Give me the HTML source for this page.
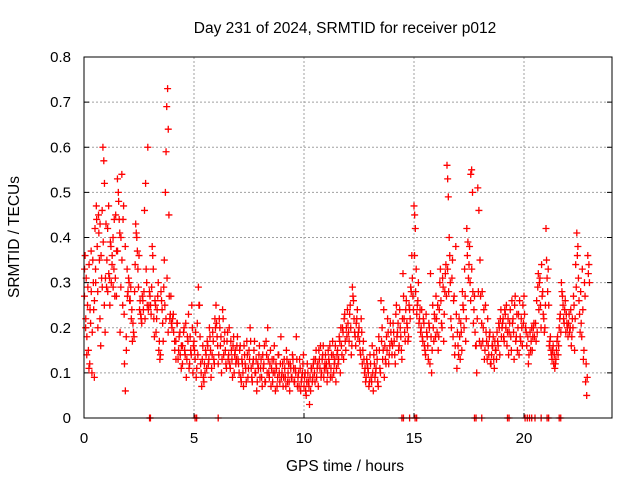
<!DOCTYPE html>
<html><head><meta charset="utf-8"><style>
body{margin:0;background:#fff;}
svg{display:block;font-family:"Liberation Sans",sans-serif;}
</style></head><body>
<svg id="chart" width="640" height="480">
<rect x="0" y="0" width="640" height="480" fill="#fff"/>
<text x="345" y="33" font-size="15.5" text-anchor="middle" fill="#000">Day 231 of 2024, SRMTID for receiver p012</text>
<text x="345" y="471" font-size="15.5" text-anchor="middle" fill="#000">GPS time / hours</text>
<text x="19" y="237" font-size="15.5" text-anchor="middle" fill="#000" transform="rotate(-90 19 237)">SRMTID / TECUs</text>
<g id="grid"></g>
<g id="ticks"></g>
<g id="points"></g>
<rect x="84" y="57" width="528" height="361" fill="none" stroke="#000" stroke-width="1"/>
</svg>
<script>
const xTicks=[0,5,10,15,20];
const yTicks=[0,0.1,0.2,0.3,0.4,0.5,0.6,0.7,0.8];
const yTickLabels=["0","0.1","0.2","0.3","0.4","0.5","0.6","0.7","0.8"];
const hours=[0.02,0.05,0.08,0.1,0.13,0.16,0.2,0.23,0.26,0.3,0.33,0.36,0.4,0.44,0.47,
0.5,0.53,0.56,0.6,0.63,0.66,0.7,0.73,0.76,0.8,0.83,0.86,0.9,0.93,0.96,
1.0,1.04,1.08,1.12,1.16,1.2,1.24,1.28,1.32,1.36,1.4,1.44,1.48,
1.52,1.56,1.6,1.64,1.68,1.72,1.76,1.8,1.84,1.88,1.92,1.96,
2.0,2.05,2.1,2.15,2.2,2.25,2.3,2.35,2.4,2.45,
2.5,2.55,2.6,2.65,2.7,2.75,2.8,2.85,2.9,2.95,
3.0,3.05,3.1,3.15,3.2,3.25,3.3,3.35,3.4,3.45,
3.5,3.55,3.6,3.65,3.7,3.73,3.76,3.8,3.83,3.86,3.9,3.95,
4.0,4.06,4.12,4.18,4.24,4.3,4.36,4.42,4.48,
4.55,4.6,4.65,4.7,4.75,4.8,4.85,4.9,4.95,
5.0,5.05,5.1,5.15,5.2,5.25,5.3,5.35,5.4,5.45,
5.5,5.55,5.6,5.65,5.7,5.75,5.8,5.85,5.9,5.95,
6.0,6.05,6.1,6.15,6.2,6.25,6.3,6.35,6.4,6.45,
6.5,6.55,6.6,6.65,6.7,6.75,6.8,6.85,6.9,6.95,
7.0,7.05,7.1,7.15,7.2,7.25,7.3,7.35,7.4,7.45,
7.5,7.55,7.6,7.65,7.7,7.75,7.8,7.85,7.9,7.95,
8.0,8.05,8.1,8.15,8.2,8.25,8.3,8.35,8.4,8.45,
8.5,8.55,8.6,8.65,8.7,8.75,8.8,8.85,8.9,8.95,
9.0,9.05,9.1,9.15,9.2,9.25,9.3,9.35,9.4,9.45,
9.5,9.55,9.6,9.65,9.7,9.75,9.8,9.85,9.9,9.95,
10.0,10.05,10.1,10.15,10.2,10.25,10.3,10.35,10.4,10.45,
10.5,10.55,10.6,10.65,10.7,10.75,10.8,10.85,10.9,10.95,
11.0,11.05,11.1,11.15,11.2,11.25,11.3,11.35,11.4,11.45,
11.5,11.55,11.6,11.65,11.7,11.75,11.8,11.85,11.9,11.95,
12.0,12.05,12.1,12.15,12.2,12.25,12.3,12.35,12.4,12.45,
12.5,12.55,12.6,12.65,12.7,12.75,12.8,12.85,12.9,12.95,
13.0,13.05,13.1,13.15,13.2,13.25,13.3,13.35,13.4,13.45,
13.5,13.55,13.6,13.65,13.7,13.75,13.8,13.85,13.9,13.95,
14.0,14.05,14.1,14.15,14.2,14.25,14.3,14.35,14.4,14.45,
14.5,14.55,14.6,14.65,14.7,14.75,14.8,14.85,14.9,14.95,
15.0,15.03,15.06,15.1,15.15,15.2,15.25,15.3,15.35,15.4,15.45,
15.5,15.55,15.6,15.65,15.7,15.75,15.8,15.85,15.9,15.95,
16.0,16.05,16.1,16.15,16.2,16.25,16.3,16.35,16.4,16.45,
16.5,16.53,16.56,16.6,16.65,16.7,16.75,16.8,16.85,16.9,16.95,
17.0,17.05,17.1,17.15,17.2,17.25,17.3,17.35,17.4,17.45,
17.5,17.55,17.58,17.62,17.66,17.7,17.75,17.8,17.85,17.9,17.95,
18.0,18.05,18.1,18.15,18.2,18.25,18.3,18.35,18.4,18.45,
18.5,18.55,18.6,18.65,18.7,18.75,18.8,18.85,18.9,18.95,
19.0,19.05,19.1,19.15,19.2,19.25,19.3,19.35,19.4,19.45,
19.5,19.55,19.6,19.65,19.7,19.75,19.8,19.85,19.9,19.95,
20.0,20.1,20.2,20.3,20.35,20.4,20.45,
20.55,20.6,20.65,20.7,20.75,20.8,20.85,20.9,20.95,
21.0,21.05,21.1,21.15,21.2,21.25,21.3,21.35,21.4,21.45,
21.5,21.55,21.6,21.65,21.7,21.75,21.8,21.85,21.9,21.95,
22.0,22.05,22.1,22.15,22.2,22.25,22.3,22.35,22.4,22.45,
22.5,22.55,22.6,22.65,22.7,22.75,22.8,22.85,22.9,22.95];
const srmtid=[.27,.36,.22,.31,.18,.25,.15,.34,.12,.21,.28,.10,.35,.24,.09,
.42,.30,.47,.38,.20,.45,.35,.43,.16,.31,.29,.60,.57,.52,.19,
.43,.35,.28,.47,.31,.39,.30,.36,.40,.33,.27,.45,.37,
.53,.50,.44,.19,.40,.54,.25,.47,.12,.06,.18,.33,
.28,.30,.26,.22,.17,.19,.28,.43,.40,.33,
.36,.26,.22,.27,.24,.46,.52,.30,.60,.25,
.27,.23,.38,.33,.18,.25,.22,.27,.15,.13,
.28,.24,.17,.35,.50,.59,.69,.73,.64,.45,.22,.27,
.20,.23,.17,.13,.21,.15,.19,.11,.16,
.20,.14,.09,.18,.23,.12,.15,.25,.10,
.17,.13,.09,.21,.29,.25,.12,.07,.16,.08,
.10,.14,.17,.12,.20,.15,.11,.19,.13,.22,
.25,.18,.12,.22,.16,.10,.24,.14,.19,.12,
.17,.13,.20,.11,.15,.09,.18,.14,.12,.16,
.13,.10,.16,.08,.12,.07,.14,.11,.17,.09,
.15,.20,.11,.08,.13,.17,.10,.06,.12,.14,
.09,.13,.07,.11,.16,.08,.14,.20,.10,.12,
.07,.13,.10,.16,.06,.11,.09,.14,.08,.18,
.10,.07,.13,.09,.15,.08,.12,.06,.11,.09,
.13,.08,.11,.18,.07,.10,.13,.06,.09,.12,
.07,.10,.05,.12,.08,.03,.06,.11,.09,.13,
.08,.15,.11,.07,.13,.16,.10,.14,.09,.12,
.11,.08,.15,.12,.09,.14,.17,.10,.13,.08,
.14,.12,.18,.10,.16,.20,.13,.23,.15,.18,
.21,.17,.25,.14,.29,.26,.19,.16,.22,.18,
.20,.15,.22,.12,.17,.10,.08,.13,.11,.07,
.14,.09,.16,.06,.12,.10,.15,.08,.18,.11,
.26,.20,.15,.09,.13,.18,.22,.12,.16,.19,
.14,.21,.17,.12,.25,.19,.15,.24,.18,.13,
.32,.22,.17,.26,.20,.18,.24,.29,.36,.27,
.47,.45,.42,.33,.25,.30,.22,.19,.24,.17,.21,
.15,.23,.18,.13,.20,.32,.10,.25,.17,.22,
.27,.19,.15,.24,.33,.21,.31,.17,.28,.34,
.56,.53,.49,.40,.30,.20,.35,.26,.14,.38,.11,
.16,.22,.13,.19,.28,.24,.33,.17,.42,.39,
.34,.30,.54,.55,.50,.21,.27,.16,.10,.51,.46,
.35,.16,.28,.20,.13,.25,.17,.22,.14,.19,
.12,.16,.18,.11,.15,.13,.17,.21,.14,.24,
.20,.22,.17,.23,.25,.19,.14,.21,.18,.26,
.22,.13,.27,.18,.15,.23,.26,.17,.20,.25,
.27,.19,.12,.15,.20,.18,.21,
.17,.19,.32,.30,.25,.34,.28,.22,.20,
.42,.31,.33,.16,.18,.14,.15,.12,.11,.13,
.17,.14,.20,.23,.30,.27,.22,.24,.19,.21,
.18,.23,.20,.16,.22,.27,.15,.34,.41,.38,
.26,.19,.21,.33,.13,.30,.08,.05,.36,.34];
const hours2=[0.025,0.075,0.125,0.175,0.225,0.275,0.325,0.375,0.425,0.475,0.525,0.575,0.625,0.675,0.725,0.775,0.825,0.875,0.925,0.975,
1.025,1.075,1.125,1.175,1.225,1.275,1.325,1.375,1.425,1.475,1.525,1.575,1.625,1.675,1.725,1.775,1.825,1.875,1.925,1.975,
2.025,2.075,2.125,2.175,2.225,2.275,2.325,2.375,2.425,2.475,2.525,2.575,2.625,2.675,2.725,2.775,2.825,2.875,2.925,2.975,
3.025,3.075,3.125,3.175,3.225,3.275,3.325,3.375,3.425,3.475,3.525,3.575,3.625,3.675,3.725,3.775,3.825,3.875,3.925,3.975,
4.025,4.075,4.125,4.175,4.225,4.275,4.325,4.375,4.425,4.475,4.525,4.575,4.625,4.675,4.725,4.775,4.825,4.875,4.925,4.975,
5.025,5.075,5.125,5.175,5.225,5.275,5.325,5.375,5.425,5.475,5.525,5.575,5.625,5.675,5.725,5.775,5.825,5.875,5.925,5.975,
6.025,6.075,6.125,6.175,6.225,6.275,6.325,6.375,6.425,6.475,6.525,6.575,6.625,6.675,6.725,6.775,6.825,6.875,6.925,6.975,
7.025,7.075,7.125,7.175,7.225,7.275,7.325,7.375,7.425,7.475,7.525,7.575,7.625,7.675,7.725,7.775,7.825,7.875,7.925,7.975,
8.025,8.075,8.125,8.175,8.225,8.275,8.325,8.375,8.425,8.475,8.525,8.575,8.625,8.675,8.725,8.775,8.825,8.875,8.925,8.975,
9.025,9.075,9.125,9.175,9.225,9.275,9.325,9.375,9.425,9.475,9.525,9.575,9.625,9.675,9.725,9.775,9.825,9.875,9.925,9.975,
10.025,10.075,10.125,10.175,10.225,10.275,10.325,10.375,10.425,10.475,10.525,10.575,10.625,10.675,10.725,10.775,10.825,10.875,10.925,10.975,
11.025,11.075,11.125,11.175,11.225,11.275,11.325,11.375,11.425,11.475,11.525,11.575,11.625,11.675,11.725,11.775,11.825,11.875,11.925,11.975,
12.025,12.075,12.125,12.175,12.225,12.275,12.325,12.375,12.425,12.475,12.525,12.575,12.625,12.675,12.725,12.775,12.825,12.875,12.925,12.975,
13.025,13.075,13.125,13.175,13.225,13.275,13.325,13.375,13.425,13.475,13.525,13.575,13.625,13.675,13.725,13.775,13.825,13.875,13.925,13.975,
14.025,14.075,14.125,14.175,14.225,14.275,14.325,14.375,14.425,14.475,14.525,14.575,14.625,14.675,14.725,14.775,14.825,14.875,14.925,14.975,
15.025,15.075,15.125,15.175,15.225,15.275,15.325,15.375,15.425,15.475,15.525,15.575,15.625,15.675,15.725,15.775,15.825,15.875,15.925,15.975,
16.025,16.075,16.125,16.175,16.225,16.275,16.325,16.375,16.425,16.475,16.525,16.575,16.625,16.675,16.725,16.775,16.825,16.875,16.925,16.975,
17.025,17.075,17.125,17.175,17.225,17.275,17.325,17.375,17.425,17.475,17.525,17.575,17.625,17.675,17.725,17.775,17.825,17.875,17.925,17.975,
18.025,18.075,18.125,18.175,18.225,18.275,18.325,18.375,18.425,18.475,18.525,18.575,18.625,18.675,18.725,18.775,18.825,18.875,18.925,18.975,
19.025,19.075,19.125,19.175,19.225,19.275,19.325,19.375,19.425,19.475,19.525,19.575,19.625,19.675,19.725,19.775,19.825,19.875,19.925,19.975,
20.025,20.075,20.125,20.175,20.225,20.275,20.325,20.375,20.425,20.475,20.525,20.575,20.625,20.675,20.725,20.775,20.825,20.875,20.925,20.975,
21.025,21.075,21.125,21.175,21.225,21.275,21.325,21.375,21.425,21.475,21.525,21.575,21.625,21.675,21.725,21.775,21.825,21.875,21.925,21.975,
22.025,22.075,22.125,22.175,22.225,22.275,22.325,22.375,22.425,22.475,22.525,22.575,22.625,22.675,22.725,22.775,22.825,22.875,22.925,22.975];
const srmtid2=[.33,.20,.14,.29,.11,.24,.37,.19,.30,.26,.33,.44,.28,.41,.22,.36,.46,.39,.25,.31,
.29,.42,.32,.25,.38,.34,.29,.44,.31,.27,.37,.48,.41,.29,.35,.44,.23,.38,.15,.27,
.31,.26,.29,.24,.21,.18,.34,.41,.37,.29,.24,.23,.21,.26,.28,.22,.33,.25,.24,.28,
.25,.29,.36,.22,.26,.19,.24,.30,.17,.14,.26,.21,.29,.25,.22,.31,.19,.27,.23,.21,
.22,.19,.15,.17,.21,.13,.18,.14,.16,.12,.19,.15,.21,.13,.17,.11,.18,.14,.20,.16,
.15,.19,.11,.14,.25,.18,.10,.13,.09,.12,.15,.11,.16,.13,.18,.09,.14,.17,.12,.20,
.21,.16,.14,.20,.18,.13,.22,.17,.15,.11,.19,.14,.12,.17,.13,.16,.10,.15,.13,.18,
.12,.15,.09,.13,.10,.16,.12,.08,.14,.11,.13,.17,.09,.12,.15,.10,.13,.08,.11,.16,
.11,.09,.14,.12,.08,.17,.10,.13,.09,.15,.11,.08,.13,.10,.12,.07,.14,.10,.12,.09,
.12,.09,.11,.07,.13,.10,.08,.12,.09,.14,.11,.08,.10,.13,.09,.07,.11,.08,.10,.14,
.09,.06,.08,.10,.07,.09,.11,.08,.12,.10,.13,.09,.12,.15,.11,.09,.13,.16,.11,.14,
.12,.10,.13,.16,.11,.09,.14,.12,.16,.11,.15,.13,.17,.20,.14,.19,.22,.17,.20,.24,
.19,.23,.20,.16,.27,.22,.18,.21,.24,.19,.17,.14,.19,.15,.13,.11,.09,.12,.10,.08,
.12,.08,.10,.14,.09,.11,.13,.07,.15,.10,.17,.13,.24,.16,.12,.15,.19,.14,.21,.17,
.16,.19,.14,.23,.18,.21,.16,.20,.15,.22,.27,.19,.24,.21,.17,.25,.22,.28,.31,.24,
.36,.28,.23,.26,.21,.24,.20,.18,.22,.16,.14,.19,.16,.21,.12,.18,.15,.20,.23,.18,
.22,.25,.18,.30,.26,.20,.29,.23,.32,.27,.33,.28,.36,.22,.31,.18,.27,.16,.23,.19,
.14,.18,.21,.15,.25,.20,.27,.22,.36,.31,.38,.26,.33,.28,.24,.19,.16,.22,.28,.17,
.27,.21,.17,.24,.15,.19,.13,.16,.18,.12,.14,.16,.13,.17,.15,.19,.16,.20,.22,.18,
.21,.18,.24,.20,.16,.22,.19,.24,.15,.21,.19,.25,.17,.23,.20,.14,.18,.22,.16,.21,
.23,.20,.16,.18,.14,.19,.17,.15,.20,.18,.21,.26,.29,.24,.31,.20,.27,.23,.19,.25,
.35,.28,.25,.17,.15,.13,.16,.14,.12,.15,.18,.16,.22,.19,.28,.25,.21,.26,.23,.20,
.21,.19,.24,.18,.20,.25,.22,.29,.36,.31,.23,.28,.18,.24,.15,.27,.12,.09,.32,.30];
const zeroHours=[2.98,3.02,5.05,5.12,6.1,14.45,14.52,14.8,15.05,15.12,17.75,17.82,18.08,19.25,19.32,20.05,20.15,20.25,20.35,20.5,20.78,21.05,21.12,21.6,21.67];

const X0=84,X1=612,Y0=418,Y1=57;
function xs(h){return X0+(h/24)*(X1-X0);}
function ys(v){return Y0-(v/0.8)*(Y0-Y1);}
const NS="http://www.w3.org/2000/svg";
const grid=document.getElementById('grid'),ticks=document.getElementById('ticks'),pts=document.getElementById('points');
function mk(tag,attrs,parent){const e=document.createElementNS(NS,tag);for(const k in attrs)e.setAttribute(k,attrs[k]);parent.appendChild(e);return e;}
xTicks.forEach(t=>{
  const x=xs(t);
  if(t>0){const g=mk('line',{x1:x,x2:x,y1:Y1,y2:Y0,stroke:'#a0a0a0','stroke-dasharray':'2,2','stroke-width':1},grid);
  
  }
  const tl=mk('line',{x1:x,x2:x,y1:Y0,y2:Y0-5,stroke:'#000'},ticks);
  
  
  const tt=mk('text',{x:x,y:Y0+25,'font-size':15,'text-anchor':'middle'},ticks);
  tt.textContent=String(t);
  
  
});
yTicks.forEach((v,i)=>{
  const y=ys(v);
  if(v>0&&v<0.8){const g=mk('line',{x1:X0,x2:X1,y1:y,y2:y,stroke:'#a0a0a0','stroke-dasharray':'2,2','stroke-width':1},grid);
  
  }
  const tl=mk('line',{x1:X0,x2:X0+5,y1:y,y2:y,stroke:'#000'},ticks);
  
  
  const tr=mk('line',{x1:X1,x2:X1-5,y1:y,y2:y,stroke:'#000'},ticks);
  
  
  const tt=mk('text',{x:X0-13,y:y+5,'font-size':15,'text-anchor':'end'},ticks);
  tt.textContent=yTickLabels[i];
  
  
});
function plus(h,v){
  const x=xs(h),y=ys(v);
  const p=mk('path',{d:`M${x-3.5},${y}H${x+3.5}M${x},${y-3.5}V${y+3.5}`,stroke:'#ff0000','stroke-width':1.3,fill:'none'},pts);
  
  
}
hours.forEach((h,i)=>plus(h,srmtid[i]));
hours2.forEach((h,i)=>plus(h,srmtid2[i]));
zeroHours.forEach(h=>plus(h,0));
</script>
</body></html>
